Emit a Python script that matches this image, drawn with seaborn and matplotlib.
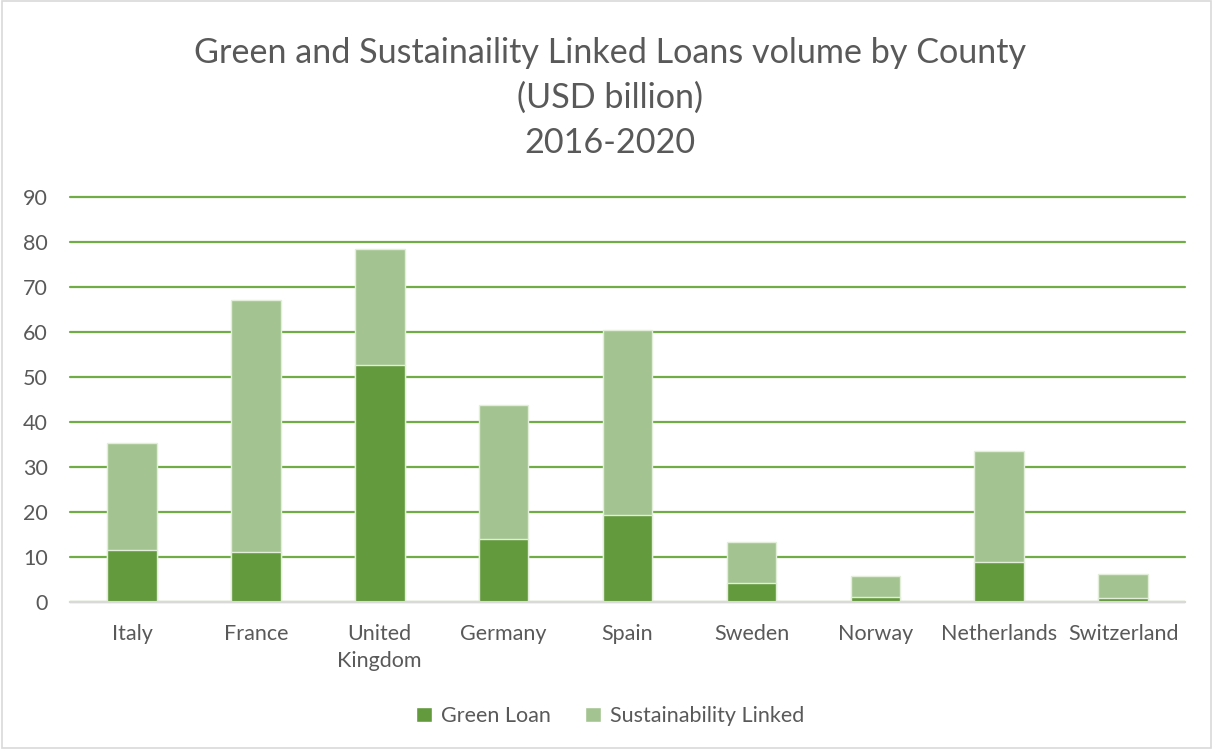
import matplotlib
matplotlib.use("Agg")
import matplotlib.pyplot as plt
import seaborn as sns
import pandas as pd
from matplotlib.patches import Patch, Rectangle

countries = ["Italy", "France", "United\nKingdom", "Germany", "Spain",
             "Sweden", "Norway", "Netherlands", "Switzerland"]
green_loan = [11.5, 11.0, 52.6, 14.1, 19.3, 4.2, 1.2, 8.9, 0.8]
sustainability_linked = [23.9, 56.0, 25.8, 29.6, 41.1, 9.2, 4.6, 24.7, 5.4]
y_ticks = [0, 10, 20, 30, 40, 50, 60, 70, 80, 90]

df = pd.DataFrame({"country": countries,
                   "green": green_loan,
                   "linked": sustainability_linked})
df["total"] = df["green"] + df["linked"]

sns.set_theme(style="white")
plt.rcParams["font.family"] = ["Lato", "DejaVu Sans"]

DARK = "#639A3D"
LIGHT = "#A3C491"
TEXT = "#595959"
GRID = "#70AD47"
FS = 15.5

fig = plt.figure(figsize=(12.13, 7.49), dpi=100)
ax = fig.add_axes([0.0577, 0.1963, 0.9193, 0.5407])

# Stacked bars: full height in light green, green-loan share over it
sns.barplot(data=df, x="country", y="total", color=LIGHT, saturation=1,
            width=0.4, edgecolor="#E2EEDA", linewidth=1, ax=ax, zorder=3)
sns.barplot(data=df, x="country", y="green", color=DARK, saturation=1,
            width=0.4, edgecolor="#E2EEDA", linewidth=1, ax=ax, zorder=4)

ax.set_ylim(0, 90)
ax.set_xlim(-0.5, len(countries) - 0.5)
ax.set_yticks(y_ticks)
ax.set_yticklabels([str(t) for t in y_ticks])
ax.yaxis.grid(True, color=GRID, linewidth=1.6, zorder=0)
for gl in ax.get_ygridlines():
    gl.set_clip_on(False)
ax.xaxis.grid(False)
ax.set_axisbelow(True)
for side in ["top", "right", "left"]:
    ax.spines[side].set_visible(False)
ax.spines["bottom"].set_color("#D9D9D9")
ax.spines["bottom"].set_linewidth(1.5)
ax.spines["bottom"].set_zorder(5)
ax.tick_params(axis="both", length=0, labelsize=FS, labelcolor=TEXT)
ax.tick_params(axis="y", pad=16)
ax.tick_params(axis="x", pad=16)
for lbl in ax.get_xticklabels():
    lbl.set_linespacing(1.45)
ax.set_xlabel("")
ax.set_ylabel("")

fig.text(0.503, 0.869,
         "Green and Sustainaility Linked Loans volume by County\n(USD billion)\n2016-2020",
         ha="center", va="center", fontsize=24.6, color=TEXT, linespacing=1.5)

handles = [Patch(facecolor=DARK, label="Green Loan"),
           Patch(facecolor=LIGHT, label="Sustainability Linked")]
fig.legend(handles=handles, loc="center", bbox_to_anchor=(0.503, 0.044),
           ncol=2, frameon=False, fontsize=FS, labelcolor=TEXT,
           handlelength=0.75, handleheight=0.75, handletextpad=0.4,
           columnspacing=1.6)

fig.patches.append(Rectangle((0.0015, 0.002), 0.997, 0.996, transform=fig.transFigure,
                             fill=False, edgecolor="#D9D9D9", linewidth=1.2))

fig.savefig("out.png", dpi=100, facecolor="white")
